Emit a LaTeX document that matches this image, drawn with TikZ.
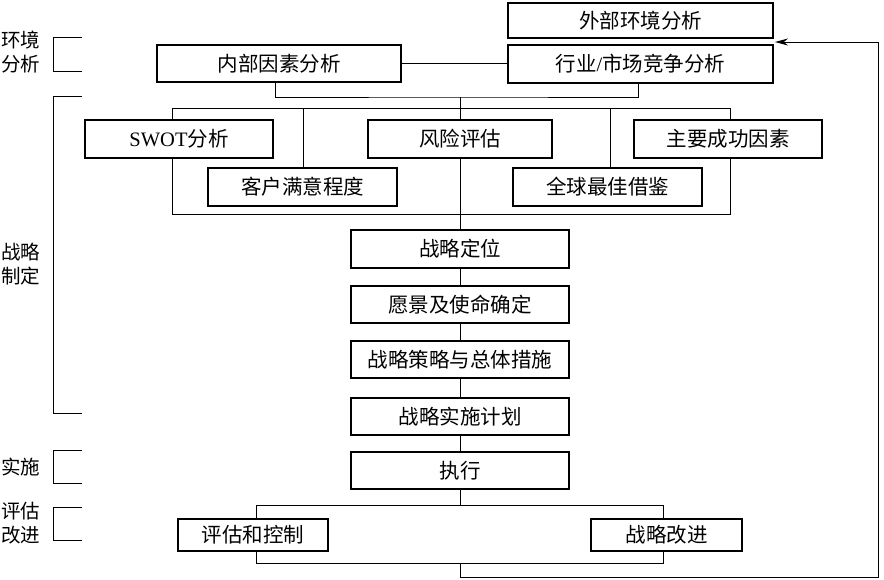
\documentclass[tikz,border=0pt]{standalone}
\usepackage{fontspec}
\newfontfamily\cjk{Noto Sans CJK SC}
\newfontfamily\lat{Liberation Serif}
\usetikzlibrary{arrows.meta}
\tikzset{
  box/.style={draw, line width=1.4pt, fill=white, inner sep=0pt,
    font=\cjk\fontsize{20.5}{24}\selectfont},
  grp/.style={draw, line width=0.9pt, inner sep=0pt},
  conn/.style={line width=0.9pt},
  side/.style={font=\cjk\fontsize{19.5}{24}\selectfont, align=center, inner sep=0pt},
}
\begin{document}
\begin{tikzpicture}[x=1pt,y=-1pt]
\useasboundingbox (0,0) rectangle (884,579);
\fill[white] (0,0) rectangle (884,579);

% left side labels and brackets
\node[side] (lenv) at (21,52) {环境\\分析};
\node[side] (lform) at (21,264) {战略\\制定};
\node[side] (limpl) at (21,467) {实施};
\node[side] (leval) at (21,523) {评估\\改进};
\draw[conn] (82,37) -| (53,71) -- (82,71);
\draw[conn] (82,96) -| (53,413) -- (82,413);
\draw[conn] (82,450) -| (53,483) -- (82,483);
\draw[conn] (82,507) -| (53,540) -- (82,540);

% group frames
\node[grp, minimum width=558, minimum height=106] (g1) at (451,161) {};
\node[grp, minimum width=407, minimum height=58] (g2) at (460,534) {};

% top boxes
\node[box, minimum width=265, minimum height=35] (ext) at (640.5,20.5) {外部环境分析};
\node[box, minimum width=265, minimum height=38] (ind) at (640.5,64) {行业{\lat /}市场竞争分析};
\node[box, minimum width=244, minimum height=37] (int) at (279,63.5) {内部因素分析};
\coordinate (j1) at (460,97);
\draw[conn] (int.east) -- (int.east -| ind.west);
\draw[conn] ([xshift=-4pt]int.south) |- (j1) -| ([xshift=-2pt]ind.south);

% internal verticals of group 1 (drawn before boxes)
\coordinate (v1) at (303,108);
\coordinate (v2) at (610,108);
\draw[conn] (v1) -- (v1 |- 0,168);
\draw[conn] (v2) -- (v2 |- 0,168);
\coordinate (pos0) at (460,230);
\draw[conn] (j1) -- (pos0);

% group 1 boxes
\node[box, minimum width=188, minimum height=38] (swot) at (179,139) {{\lat SWOT}分析};
\node[box, minimum width=184, minimum height=38] (risk) at (460,139) {风险评估};
\node[box, minimum width=188, minimum height=38] (ksf) at (728,139) {主要成功因素};
\node[box, minimum width=189, minimum height=38] (cust) at (302.5,187) {客户满意程度};
\node[box, minimum width=189, minimum height=38] (best) at (607.5,187) {全球最佳借鉴};

% central column
\node[box, minimum width=218, minimum height=38] (pos) at (460,249) {战略定位};
\node[box, minimum width=218, minimum height=37] (vis) at (460,304.5) {愿景及使命确定};
\node[box, minimum width=218, minimum height=37] (strat) at (460,359.5) {战略策略与总体措施};
\node[box, minimum width=218, minimum height=37] (plan) at (460,416.5) {战略实施计划};
\node[box, minimum width=218, minimum height=37] (exec) at (460,470.5) {执行};
\draw[conn] (pos) -- (vis);
\draw[conn] (vis) -- (strat);
\draw[conn] (strat) -- (plan);
\draw[conn] (plan) -- (exec);
\draw[conn] (exec) -- (g2);

% bottom boxes
\node[box, minimum width=150, minimum height=32] (eval) at (253,535) {评估和控制};
\node[box, minimum width=151, minimum height=32] (impr) at (666.5,535) {战略改进};

% feedback loop
\coordinate (c2) at (878,577);
\coordinate (tip) at (775,42);
\draw[conn, -{Stealth[length=13pt,width=7pt]}] (g2.south) |- (c2) |- (tip);
\end{tikzpicture}
\end{document}
